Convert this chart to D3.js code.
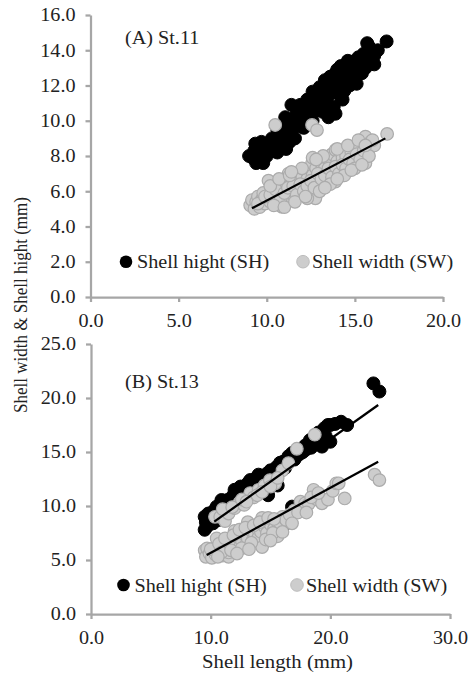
<!DOCTYPE html>
<html>
<head>
<meta charset="utf-8">
<script src="https://cdn.jsdelivr.net/npm/d3@7"></script>
<style>
body { margin: 0; background: #fff; }
text { font-family: "Liberation Serif", "Times New Roman", serif; font-size: 18px; fill: #222; }
.axis path, .axis line { stroke: #a6a6a6; stroke-width: 2.25; }
</style>
</head>
<body>
<svg width="473" height="674"></svg>
<script>
// (A) St.11 : shell length vs shell hight / shell width
var st11Hight = [
  [9.0,8.0],[9.2,7.9],[9.3,8.3],[9.35,8.7],[9.4,7.6],[9.5,8.6],[9.6,8.1],[9.7,8.8],[9.8,7.6],[9.9,8.4],
  [10.0,8.0],[10.1,8.7],[10.2,8.3],[10.3,9.0],[10.4,8.5],[10.5,8.9],[10.6,8.2],[10.7,9.3],[10.8,8.7],[10.9,9.6],
  [11.0,9.1],[11.05,10.2],[11.1,8.4],[11.2,9.8],[11.3,8.8],[11.4,10.9],[11.4,9.4],[11.5,10.1],[11.6,9.0],[11.7,10.4],
  [11.8,9.7],[11.9,10.9],[12.0,10.2],[12.1,9.6],[12.2,10.7],[12.3,11.2],[12.4,10.4],[12.6,11.65],[12.6,10.0],[12.7,11.0],
  [12.8,11.5],[12.9,10.6],[13.0,11.9],[13.1,11.2],[13.2,10.5],[13.3,12.3],[13.4,11.6],[13.5,10.2],[13.6,12.5],[13.7,11.8],
  [13.8,10.8],[13.9,12.7],[13.9,10.4],[14.0,12.9],[14.1,11.5],[14.2,13.1],[14.3,11.2],[14.4,11.7],[14.5,12.7],[14.6,13.4],
  [14.7,12.0],[14.84,13.35],[15.0,12.4],[15.1,12.1],[15.2,13.6],[15.4,12.7],[15.5,13.1],[15.7,14.4],[15.8,14.2],[15.9,13.7],
  [16.0,13.3],[16.1,13.2],[16.3,14.0],[16.8,14.5],
  [9.6,8.4],[10.0,8.5],[10.4,8.8],[10.8,9.2],[11.2,9.3],[11.5,9.6],[11.8,10.1],[12.0,9.9],[12.2,10.2],[12.4,10.9],
  [12.5,10.6],[12.8,10.9],[13.0,11.2],[13.2,11.8],[13.3,11.0],[13.5,11.4],[13.6,11.9],[13.8,12.2],[14.0,11.8],[14.2,12.3],
  [14.4,12.6],[14.5,12.1],[14.7,12.9],[14.9,12.6],[15.1,13.0],[15.3,13.3],[15.5,13.8],[15.6,13.0],[15.9,14.0],[16.1,13.7],
  [10.6,9.5],[11.1,9.9],[12.0,10.6],[12.6,11.3],[13.1,11.7],[13.7,12.4],[14.3,12.8],[14.9,13.2]
];
var st11Width = [
  [9.06,5.2],[9.16,5.5],[9.3,5.0],[9.4,5.4],[9.5,5.7],[9.6,5.1],[9.7,5.5],[9.8,5.9],[9.9,5.3],[10.0,5.6],
  [10.1,6.6],[10.2,5.4],[10.3,5.9],[10.4,6.2],[10.5,5.5],[10.6,6.0],[10.7,6.4],[10.86,5.12],[10.9,5.8],[11.0,6.3],
  [11.1,5.6],[11.24,7.0],[11.3,6.1],[11.4,6.5],[11.5,5.8],[11.6,6.8],[11.7,6.2],[11.8,6.6],[11.9,5.9],[12.0,6.9],
  [12.1,6.4],[12.2,7.2],[12.3,6.7],[12.4,6.1],[12.57,7.6],[12.6,6.9],[12.76,5.6],[12.8,7.3],[12.9,6.6],[13.0,7.0],
  [13.1,7.6],[13.2,6.4],[13.3,7.3],[13.4,7.9],[13.5,6.9],[13.6,7.5],[13.7,8.1],[13.8,7.1],[13.9,6.55],[13.9,8.34],
  [14.0,7.7],[14.1,8.3],[14.2,7.2],[14.3,7.9],[14.5,8.0],[14.6,7.5],[14.8,8.2],[15.0,7.8],[15.2,8.5],[15.4,8.1],
  [15.6,9.1],[15.6,7.6],[15.8,8.4],[15.9,8.8],[16.1,8.6],[16.83,9.25],
  [9.5,5.3],[9.9,5.7],[10.2,5.8],[10.5,6.1],[10.8,5.6],[11.0,5.9],[11.2,6.2],[11.5,6.3],[11.7,5.8],[11.9,6.4],
  [12.1,6.0],[12.3,6.3],[12.5,6.6],[12.7,6.2],[12.9,7.0],[13.1,6.7],[13.3,6.9],[13.5,7.3],[13.7,6.8],[13.9,7.4],
  [14.1,7.0],[14.3,7.5],[14.5,7.3],[14.7,7.8],[14.9,7.6],[15.1,8.1],[15.3,7.8],[15.5,8.3],[15.8,8.0],[16.0,8.9],
  [10.2,6.3],[10.7,6.7],[11.3,6.9],[12.0,7.3],[12.6,7.9],[13.2,8.0],[14.0,8.4],[14.6,8.6],[15.2,8.9],[12.3,5.6],
  [13.6,6.4],[14.4,6.9],[15.0,7.3],
  [10.4,5.2],[11.0,5.1],[11.6,5.4],[12.2,5.7],[13.0,6.0],[13.3,6.2],[14.0,6.7],[14.8,7.2],[15.4,7.5],[11.4,7.1],
  [12.8,7.8],[15.6,8.6],
  [10.48,9.76],[12.57,9.76],[12.85,9.47]
];
var st11HightTrend = [[9.2,8.0],[16.7,14.26]];
var st11WidthTrend = [[9.16,5.03],[16.73,9.0]];

// (B) St.13
var st13Hight = [
  [9.5,9.0],[9.5,7.8],[9.7,8.1],[9.8,9.3],[9.9,8.6],[10.0,9.3],[10.2,8.4],[10.3,9.6],[10.5,9.94],[10.6,8.7],
  [10.8,10.1],[10.9,10.55],[11.0,9.4],[11.1,10.5],[11.3,9.8],[11.5,10.6],[11.7,10.2],[11.9,11.0],[12.0,11.5],[12.1,10.4],
  [12.3,11.2],[12.5,11.8],[12.6,10.9],[12.8,11.4],[13.1,12.1],[13.2,11.3],[13.3,12.4],[13.6,12.1],[13.8,12.6],[14.0,12.9],
  [14.2,11.6],[14.4,12.7],[14.7,13.0],[14.8,11.0],[15.0,13.3],[15.2,12.5],[15.5,13.6],[15.6,11.9],[15.8,14.0],[16.05,14.1],
  [16.2,13.5],[16.5,14.6],[16.8,14.9],[17.0,14.3],[17.3,15.1],[17.6,15.3],[17.9,15.6],[18.3,16.1],[18.5,15.7],[18.8,16.3],
  [19.0,16.8],[19.3,15.5],[19.5,17.2],[19.8,17.5],[20.0,17.5],[20.0,15.95],[20.4,17.6],[20.9,17.8],[21.4,17.5],[23.6,21.35],
  [24.1,20.6],[16.8,9.94],[16.2,8.3],[14.3,6.4],
  [9.6,8.5],[10.1,8.9],[10.4,9.1],[10.9,9.6],[11.4,9.9],[11.8,10.4],[12.2,10.8],[12.7,11.0],[13.0,11.6],[13.5,11.7],
  [13.9,12.1],[14.5,12.2],[15.1,12.8],[15.7,13.2],[16.4,13.9],[17.1,14.6],[17.7,15.0],[18.4,15.4],[19.1,16.2],[19.6,16.5]
];
var st13Width = [
  [9.5,5.9],[9.6,5.3],[9.7,6.08],[9.9,5.6],[10.1,5.2],[10.3,6.1],[10.4,5.5],[10.5,7.0],[10.6,5.8],[10.8,6.3],
  [11.0,5.4],[11.1,6.0],[11.3,6.6],[11.5,5.3],[11.5,5.7],[11.6,6.3],[11.8,6.9],[12.0,6.0],[12.0,7.7],[12.1,6.6],
  [12.3,7.1],[12.5,6.3],[12.6,6.8],[12.8,7.4],[13.0,6.5],[13.1,8.5],[13.1,7.0],[13.3,7.8],[13.5,6.8],[13.7,7.4],
  [13.9,7.9],[14.0,7.1],[14.2,7.6],[14.3,8.9],[14.3,6.2],[14.5,8.1],[14.7,7.5],[15.0,8.3],[15.3,7.9],[15.6,7.2],
  [15.6,8.5],[15.8,8.4],[16.0,9.0],[16.3,8.7],[17.0,9.6],[17.5,10.4],[17.9,10.25],[18.2,10.2],[18.6,11.5],[18.9,10.6],
  [19.3,10.25],[19.8,10.6],[20.2,11.4],[20.5,12.1],[20.7,12.1],[21.2,10.7],[23.7,12.9],[24.1,12.4],
  [10.0,6.0],[10.7,6.5],[11.2,7.0],[11.9,7.3],[12.4,7.8],[12.9,8.0],[13.6,8.2],[14.1,8.5],[14.8,8.9],[15.3,8.8],
  [10.9,5.7],[11.7,5.9],[12.6,6.1],[13.4,6.6],[14.6,6.9],[15.2,7.5],[16.6,9.2],[17.3,9.4],[18.4,10.8],[19.0,11.2],
  [10.6,5.3],[12.2,5.6],[13.2,6.0],[15.0,6.8],[16.0,7.6],[16.8,8.4],[18.0,9.4],
  [10.36,9.0],[10.8,9.0],[11.2,8.6],[11.5,9.3],[12.0,9.8],[12.4,10.3],[12.8,10.1],[13.3,11.2],[13.6,10.8],[14.0,11.5],
  [14.5,11.9],[14.95,12.4],[15.4,12.1],[16.0,13.3],[16.5,13.97],[17.2,15.3],[18.7,16.6],
  [11.0,9.7],[11.8,9.9],[12.6,10.6],[13.0,10.4],[13.9,11.0],[14.3,11.3],[15.0,11.8],[15.6,12.6]
];
var st13HightTrend = [[10.3,8.55],[24.0,19.35]];
var st13WidthTrend = [[9.67,5.46],[24.0,14.1]];

var st11XTicks = [0, 5, 10, 15, 20];
var st11YTicks = [0, 2, 4, 6, 8, 10, 12, 14, 16];
var st13XTicks = [0, 10, 20, 30];
var st13YTicks = [0, 5, 10, 15, 20, 25];

var seriesNames = ["Shell hight (SH)", "Shell width (SW)"];

var svg = d3.select("svg");
var fmt = d3.format(".1f");

function panel(opt) {
  var xs = d3.scaleLinear().domain(opt.xDomain).range(opt.xRange);
  var ys = d3.scaleLinear().domain(opt.yDomain).range(opt.yRange);

  var g = svg.append("g");

  g.append("g")
    .attr("class", "axis")
    .attr("transform", "translate(0," + opt.yRange[0] + ")")
    .call(d3.axisBottom(xs).tickValues(opt.xTicks).tickFormat(fmt).tickSize(5).tickSizeOuter(0).tickPadding(12));

  g.append("g")
    .attr("class", "axis")
    .attr("transform", "translate(" + opt.xRange[0] + ",0)")
    .call(d3.axisLeft(ys).tickValues(opt.yTicks).tickFormat(fmt).tickSize(5).tickSizeOuter(0).tickPadding(10));

  g.selectAll(".axis").attr("font-size", null).attr("font-family", null);
  g.selectAll(".axis text").attr("fill", "#222");

  var line = d3.line().x(function(d) { return xs(d[0]); }).y(function(d) { return ys(d[1]); });

  g.selectAll(".sh")
    .data(opt.hight)
    .enter()
    .append("circle")
    .attr("class", "sh")
    .attr("cx", function(d) { return xs(d[0]); })
    .attr("cy", function(d) { return ys(d[1]); })
    .attr("r", 6.5)
    .attr("fill", "#000")
    .attr("stroke", "#000")
    .attr("stroke-width", 1);

  g.selectAll(".sw")
    .data(opt.width)
    .enter()
    .append("circle")
    .attr("class", "sw")
    .attr("cx", function(d) { return xs(d[0]); })
    .attr("cy", function(d) { return ys(d[1]); })
    .attr("r", 6.3)
    .attr("fill", "#cdcdcd")
    .attr("stroke", "#ababab")
    .attr("stroke-width", 1.2);

  [opt.hightTrend, opt.widthTrend].forEach(function(t) {
    g.append("path")
      .attr("d", line(t))
      .attr("fill", "none")
      .attr("stroke", "#000")
      .attr("stroke-width", 2.25);
  });

  g.append("text")
    .attr("x", opt.label[0])
    .attr("y", opt.label[1])
    .text(opt.title);

  // legend
  var lg = g.append("g");
  lg.append("circle").attr("cx", opt.legend[0]).attr("cy", opt.legend[1]).attr("r", 6.3).attr("fill", "#000");
  lg.append("text").attr("x", opt.legend[0] + 11).attr("y", opt.legend[1] + 6.5).text(seriesNames[0]);
  lg.append("circle").attr("cx", opt.legend[2]).attr("cy", opt.legend[1]).attr("r", 6.3)
    .attr("fill", "#cdcdcd").attr("stroke", "#bdbdbd").attr("stroke-width", 1);
  lg.append("text").attr("x", opt.legend[2] + 9).attr("y", opt.legend[1] + 6.5).text(seriesNames[1]);
}

panel({
  xDomain: [0, 20], xRange: [90.5, 443],
  yDomain: [0, 16], yRange: [297, 15],
  xTicks: st11XTicks, yTicks: st11YTicks,
  hight: st11Hight, width: st11Width,
  hightTrend: st11HightTrend, widthTrend: st11WidthTrend,
  title: "(A) St.11", label: [125, 43.5],
  legend: [126, 261.7, 303]
});

panel({
  xDomain: [0, 30], xRange: [91, 450],
  yDomain: [0, 25], yRange: [614, 344],
  xTicks: st13XTicks, yTicks: st13YTicks,
  hight: st13Hight, width: st13Width,
  hightTrend: st13HightTrend, widthTrend: st13WidthTrend,
  title: "(B) St.13", label: [125, 388],
  legend: [123.5, 585, 297]
});

// widen the glyphs a little, the original text is stretched sideways
svg.selectAll("text").each(function() {
  var len = this.getComputedTextLength();
  d3.select(this).attr("textLength", len * 1.12).attr("lengthAdjust", "spacingAndGlyphs");
});

svg.append("text")
  .attr("transform", "translate(26.5,305) rotate(-90)")
  .attr("text-anchor", "middle")
  .attr("textLength", 216)
  .attr("lengthAdjust", "spacingAndGlyphs")
  .text("Shell width & Shell hight (mm)");

svg.append("text")
  .attr("x", 277.5)
  .attr("y", 668)
  .attr("text-anchor", "middle")
  .attr("textLength", 151)
  .attr("lengthAdjust", "spacingAndGlyphs")
  .text("Shell length (mm)");
</script>
</body>
</html>
